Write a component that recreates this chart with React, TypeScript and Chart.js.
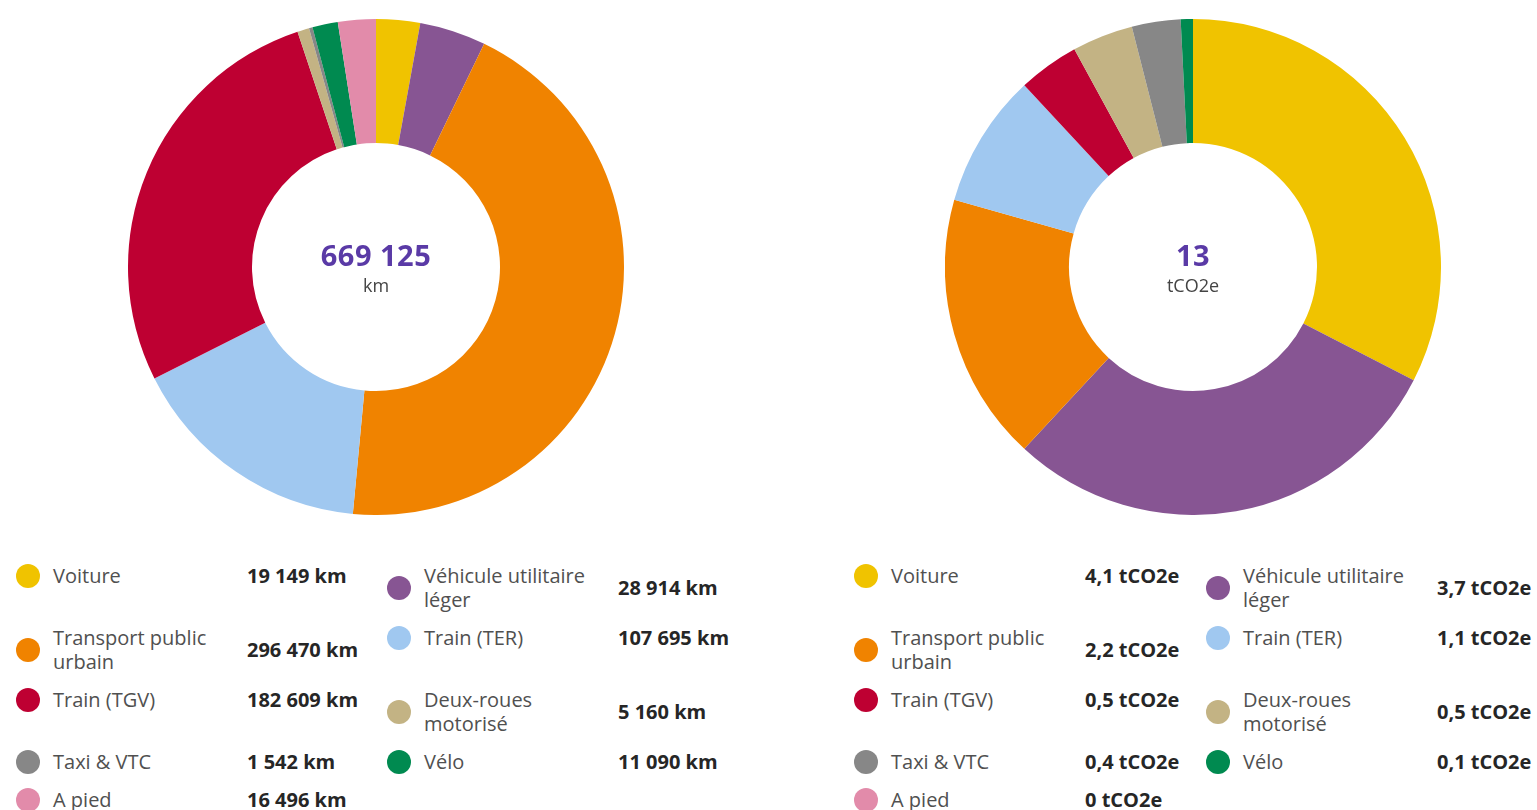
import React, { useEffect, useRef } from 'react';
import { Chart, registerables } from 'chart.js';

Chart.register(...registerables);

const categories = [
  'Voiture',
  'Véhicule utilitaire léger',
  'Transport public urbain',
  'Train (TER)',
  'Train (TGV)',
  'Deux-roues motorisé',
  'Taxi & VTC',
  'Vélo',
  'A pied',
];

const legendLabels = [
  'Voiture',
  'Véhicule utilitaire\nléger',
  'Transport public\nurbain',
  'Train (TER)',
  'Train (TGV)',
  'Deux-roues\nmotorisé',
  'Taxi & VTC',
  'Vélo',
  'A pied',
];

const colors = [
  '#F0C300',
  '#875593',
  '#F08300',
  '#A0C8F0',
  '#BE0032',
  '#C3B384',
  '#878787',
  '#008A50',
  '#E28BAA',
];

const kmValues = [19149, 28914, 296470, 107695, 182609, 5160, 1542, 11090, 16496];
const co2Values = [4.1, 3.7, 2.2, 1.1, 0.5, 0.5, 0.4, 0.1, 0];

const FONT = '"Open Sans", "Noto Sans", sans-serif';

const fmtKm = (v: number) =>
  String(Math.round(v)).replace(/\B(?=(\d{3})+(?!\d))/g, ' ');
const fmtCo2 = (v: number) => String(v).replace('.', ',');

function Donut({ values, cx, cy, size, total, unit }: { values: number[]; cx: number; cy: number; size: number; total: string; unit: string }) {
  const ref = useRef<HTMLCanvasElement>(null);
  useEffect(() => {
    const chart = new Chart(ref.current!, {
      type: 'doughnut',
      data: {
        labels: categories,
        datasets: [
          {
            data: values,
            backgroundColor: colors,
            borderWidth: 0,
            hoverOffset: 0,
          },
        ],
      },
      options: {
        responsive: false,
        animation: false,
        cutout: '50%',
        layout: { padding: 0 },
        plugins: { legend: { display: false }, tooltip: { enabled: false } },
      },
    });
    return () => chart.destroy();
  }, []);
  return (
    <>
      <canvas
        ref={ref}
        width={size}
        height={size}
        style={{ position: 'absolute', left: cx - size / 2, top: cy - size / 2, width: size, height: size }}
      />
      <div
        style={{
          position: 'absolute',
          left: cx - 100,
          top: cy - 28,
          width: 200,
          textAlign: 'center',
          fontFamily: FONT,
          fontSize: 29,
          fontWeight: 700,
          letterSpacing: 0.5,
          lineHeight: '32px',
          color: '#5A3AA6',
        }}
      >
        {total}
      </div>
      <div
        style={{
          position: 'absolute',
          left: cx - 100,
          top: cy + 7,
          width: 200,
          textAlign: 'center',
          fontFamily: FONT,
          fontSize: 18,
          lineHeight: '22px',
          color: '#444',
        }}
      >
        {unit}
      </div>
    </>
  );
}

function Legend({ left, top, firstCol, values }: { left: number; top: number; firstCol: number; values: string[] }) {
  return (
    <div
      style={{
        position: 'absolute',
        left,
        top,
        display: 'grid',
        gridTemplateColumns: `${firstCol}px auto`,
        rowGap: 14,
        alignItems: 'start',
        fontFamily: FONT,
        fontSize: 20,
        lineHeight: '24px',
      }}
    >
      {categories.map((c, i) => (
        <div key={c} style={{ display: 'flex', alignItems: 'center' }}>
          <div
            style={{
              width: 24,
              height: 24,
              borderRadius: 12,
              background: colors[i],
              marginRight: 13,
              flex: '0 0 auto',
            }}
          />
          <div style={{ width: 194, whiteSpace: 'pre-line', color: '#505050', flex: '0 0 auto' }}>
            {legendLabels[i]}
          </div>
          <div style={{ fontWeight: 700, color: '#262626', whiteSpace: 'nowrap' }}>{values[i]}</div>
        </div>
      ))}
    </div>
  );
}

export default function App() {
  const kmTotal = kmValues.reduce((a, b) => a + b, 0);
  const co2Total = co2Values.reduce((a, b) => a + b, 0);
  return (
    <div style={{ position: 'absolute', left: 0, top: 0, width: 1537, height: 810, background: '#fff', overflow: 'hidden' }}>
      <Donut values={kmValues} cx={376} cy={267} size={496} total={fmtKm(kmTotal)} unit="km" />
      <Donut values={co2Values} cx={1193} cy={267} size={496} total={String(Math.round(co2Total))} unit="tCO2e" />
      <Legend left={16} top={564} firstCol={371} values={kmValues.map((v) => `${fmtKm(v)} km`)} />
      <Legend left={854} top={564} firstCol={352} values={co2Values.map((v) => `${fmtCo2(v)} tCO2e`)} />
    </div>
  );
}
